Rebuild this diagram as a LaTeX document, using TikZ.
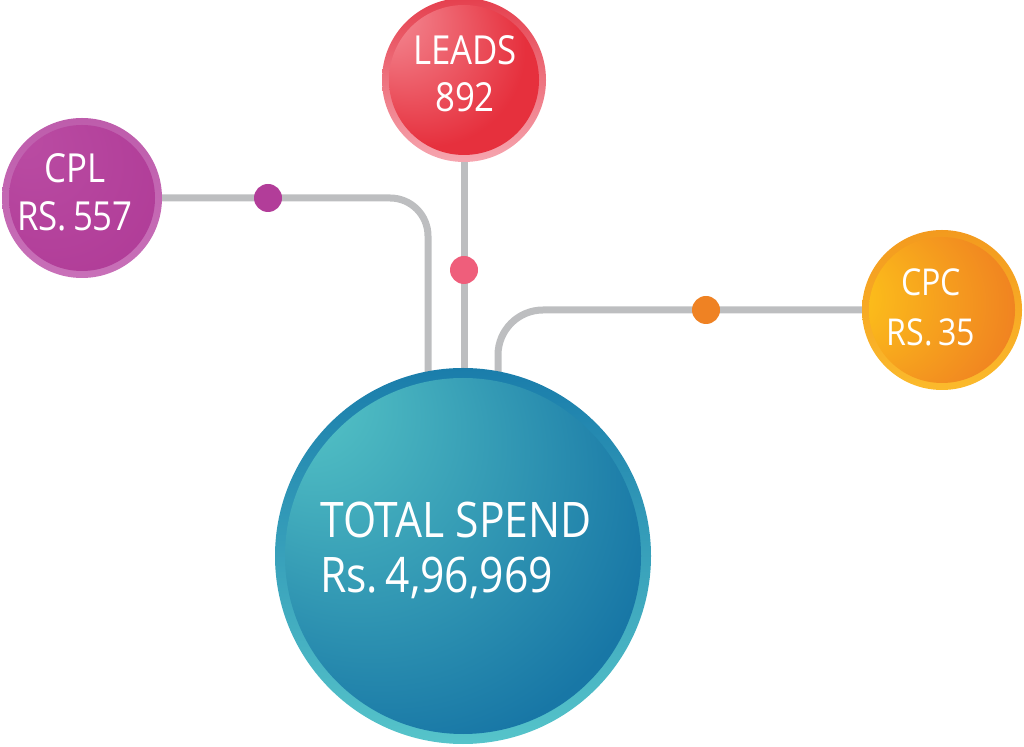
\documentclass[tikz,border=0pt]{standalone}
\usepackage{fontspec}
\setmainfont{Open Sans}[FakeStretch=0.87]
\usetikzlibrary{calc}
\pgfdeclarelayer{background}
\pgfsetlayers{background,main}

\definecolor{totalLight}{HTML}{55C4C6}
\definecolor{totalDark}{HTML}{1877A6}
\definecolor{totalRingTop}{HTML}{1A7DAB}
\definecolor{totalRingBot}{HTML}{56C4CA}
\definecolor{leadsLight}{HTML}{F48C96}
\definecolor{leadsDark}{HTML}{E6303D}
\definecolor{leadsRingTop}{HTML}{E5404E}
\definecolor{leadsRingBot}{HTML}{F6A6B0}
\definecolor{cplLight}{HTML}{BA4CA3}
\definecolor{cplDark}{HTML}{AF3A96}
\definecolor{cplRingTop}{HTML}{BE5DAC}
\definecolor{cplRingBot}{HTML}{C870B8}
\definecolor{cpcLight}{HTML}{FDC31A}
\definecolor{cpcDark}{HTML}{EE7822}
\definecolor{cpcRingTop}{HTML}{F39A1E}
\definecolor{cpcRingBot}{HTML}{FBBA2C}
\definecolor{linkGray}{HTML}{BDBEC0}
\definecolor{cplDot}{HTML}{B23D99}
\definecolor{leadsDot}{HTML}{EF5E7B}
\definecolor{cpcDot}{HTML}{EF8223}

\pgfdeclareradialshading{totalshade}{\pgfpoint{-25bp}{25bp}}{color(0bp)=(totalLight); color(3bp)=(totalLight); color(34bp)=(totalDark); color(50bp)=(totalDark)}
\pgfdeclareradialshading{leadsshade}{\pgfpoint{-28bp}{24bp}}{color(0bp)=(leadsLight); color(3bp)=(leadsLight); color(30bp)=(leadsDark); color(50bp)=(leadsDark)}
\pgfdeclareradialshading{cplshade}{\pgfpoint{-20bp}{20bp}}{color(0bp)=(cplLight); color(40bp)=(cplDark); color(50bp)=(cplDark)}
\pgfdeclareradialshading{cpcshade}{\pgfpoint{-40bp}{5bp}}{color(0bp)=(cpcLight); color(6bp)=(cpcLight); color(40bp)=(cpcDark); color(50bp)=(cpcDark)}

\tikzset{
  bubble/.style n args={5}{circle, inner sep=0pt, minimum size=#1,
    top color=#2, bottom color=#3,
    path picture={\shade[shading=#4] (path picture bounding box.center) circle (#5);}},
  bubbletext/.style={text=white, inner sep=0pt, align=center},
  link/.style={draw=linkGray, line width=7pt},
  dot/.style={circle, inner sep=0pt, minimum size=28pt}
}
\newcommand{\tightsp}{\hspace{0.15em}}

\begin{document}
\begin{tikzpicture}[x=1pt, y=1pt]
			\useasboundingbox (0, 0) rectangle (1024, 746);
			
			% bubbles
			\node[bubble={376pt}{totalRingTop}{totalRingBot}{totalshade}{178pt}] (total) at (463, 190) {};
			\node[bubble={164pt}{leadsRingTop}{leadsRingBot}{leadsshade}{75pt}] (leads) at (464, 666) {};
			\node[bubble={160pt}{cplRingTop}{cplRingBot}{cplshade}{73pt}] (cpl) at (82, 548) {};
			\node[bubble={160pt}{cpcRingTop}{cpcRingBot}{cpcshade}{73pt}] (cpc) at (942, 436) {};
			
			% texts of the bubbles
			\node[bubbletext, align=left, font=\fontsize{49}{55}\selectfont] (totaltext)
			  at ([shift={(-7, 6)}]total.center) {TOTAL SPEND\\Rs.\tightsp 4,96,969};
			\node[bubbletext, font=\fontsize{40}{47}\selectfont] (leadstext)
			  at ([shift={(1, 6)}]leads.center) {LEADS\\892};
			\node[bubbletext, font=\fontsize{40}{48}\selectfont] (cpltext)
			  at ([shift={(-7, 6)}]cpl.center) {CPL\\RS.\tightsp 557};
			\node[bubbletext, font=\fontsize{37}{50}\selectfont] (cpctext)
			  at ([shift={(-11, 3)}]cpc.center) {CPC\\RS.\tightsp 35};
			
			% feet of the connectors, hidden under the big bubble
			\coordinate (cplfoot) at (428, 362);
			\coordinate (leadsfoot) at (464, 362);
			\coordinate (cpcfoot) at (498, 362);
			
			\begin{pgfonlayer}{background}
				\draw[link, rounded corners=38pt] (cpl.east) -| (cplfoot);
				\draw[link] (leads.south) -- (leadsfoot);
				\draw[link, rounded corners=45pt] (cpc.west) -| (cpcfoot);
			\end{pgfonlayer}
			
			% dots on the connectors
			\node[dot, fill=cplDot] (cpldot) at (268, 548) {};
			\node[dot, fill=leadsDot] (leadsdot) at (464, 476) {};
			\node[dot, fill=cpcDot] (cpcdot) at (706, 436) {};
		\end{tikzpicture}
\end{document}
